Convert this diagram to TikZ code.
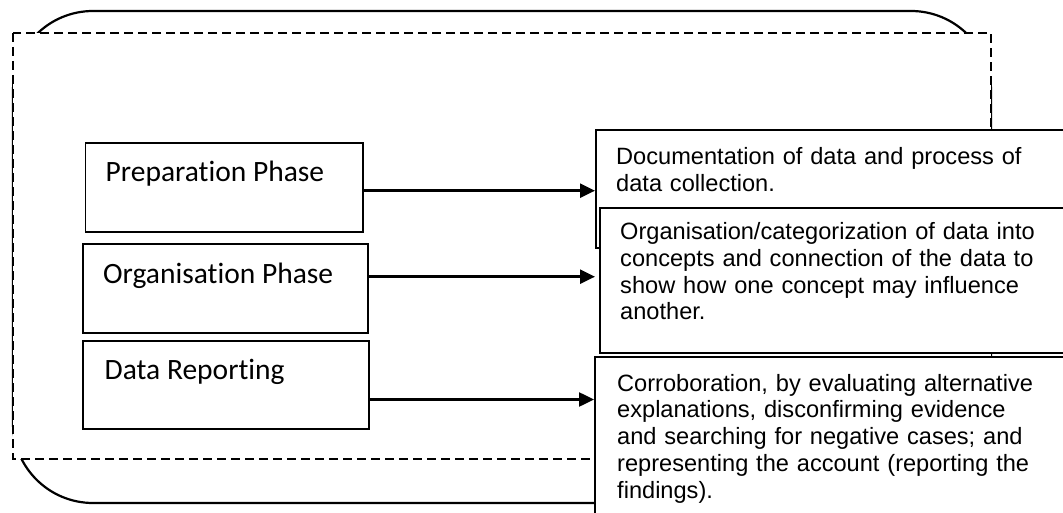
\documentclass[tikz,border=0pt]{standalone}
\usepackage{fontspec}
\newfontfamily\calibrifont[Ligatures=NoCommon]{Carlito}
\newfontfamily\arialfont{Liberation Sans}
\usetikzlibrary{arrows.meta}
\begin{document}
\begin{tikzpicture}[x=1pt,y=-1pt,
  phasebox/.style={draw, line width=1.9pt, inner sep=0pt, outer sep=0pt, anchor=north west},
  notebox/.style={draw, fill=white, line width=1.9pt, inner sep=0pt, outer sep=0pt, anchor=north west},
  phasetext/.style={anchor=base west, inner sep=0pt, font=\calibrifont\fontsize{29.5}{35}\selectfont},
  notetext/.style={anchor=base west, inner sep=0pt, align=left, text width=450pt,
    font=\arialfont\fontsize{23.6}{26.8}\selectfont},
  flow/.style={line width=2.5pt, -{Triangle[length=15pt,width=14pt]}}
]
\useasboundingbox (0,0) rectangle (1063,513);
\clip (0,0) rectangle (1063,513);

% outer rounded frame with the dashed frame laid over it
\draw[line width=2.2pt, rounded corners=80pt] (13,11) rectangle (991,503);
\draw[fill=white, line width=2.8pt, dash pattern=on 9pt off 5pt] (13,33) rectangle (991,459);

% phase boxes
\node[phasebox, minimum width=277.8pt, minimum height=88.4pt] (prep) at (85.5,143.3) {};
\node[phasebox, minimum width=285.3pt, minimum height=88.4pt] (orga) at (83,244.3) {};
\node[phasebox, minimum width=286pt, minimum height=88.6pt] (repo) at (83,340.7) {};

\node[phasetext] (prepT) at ([shift={(20,38.5)}]prep.north west) {Preparation Phase};
\node[phasetext] (orgaT) at ([shift={(20,39)}]orga.north west) {Organisation Phase};
\node[phasetext] (repoT) at ([shift={(21.5,38.5)}]repo.north west) {Data Reporting};

% description boxes, running off the right edge
\node[notebox, minimum width=484pt, minimum height=118pt] (docu) at (596,130) {};
\node[notebox, minimum width=480pt, minimum height=145pt] (cate) at (600,208) {};
\node[notebox, minimum width=485pt, minimum height=183pt] (corr) at (595,357) {};

\node[notetext] (docuT) at (616,164.5) {Documentation of data and process of\\data collection.};
\node[notetext] (cateT) at (620,239.5) {Organisation/categorization of data into\\concepts and connection of the data to\\show how one concept may influence\\another.};
\node[notetext] (corrT) at (617,391) {Corroboration, by evaluating alternative\\explanations, disconfirming evidence\\and searching for negative cases; and\\representing the account (reporting the\\findings).};

% connectors
\coordinate (tip1) at (595,190.7);
\coordinate (tip2) at (595,276.7);
\coordinate (tip3) at (594,399.5);
\draw[flow] (prep.east |- tip1) -- (tip1);
\draw[flow] (orga.east |- tip2) -- (tip2);
\draw[flow] (repo.east |- tip3) -- (tip3);
\end{tikzpicture}
\end{document}
